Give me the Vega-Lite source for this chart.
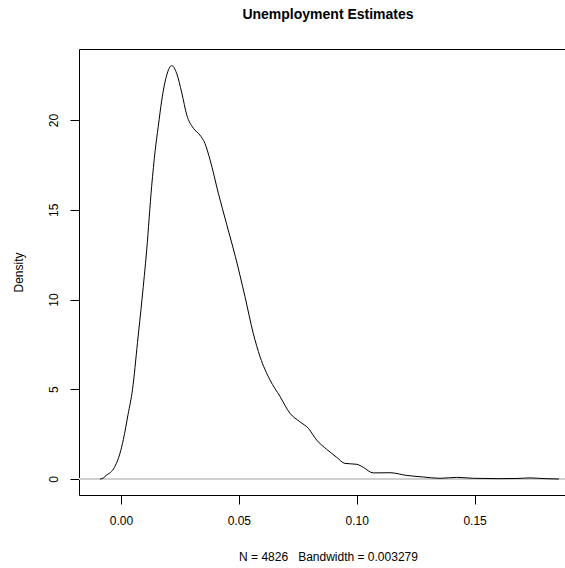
{
  "$schema": "https://vega.github.io/schema/vega-lite/v6.json",
  "autosize": "none",
  "width": 486,
  "height": 446,
  "padding": {"left": 79, "top": 49, "right": 0, "bottom": 73},
  "background": "white",
  "title": {
    "text": "Unemployment Estimates",
    "font": "Liberation Sans",
    "fontSize": 14,
    "fontWeight": "bold",
    "color": "black",
    "anchor": "middle",
    "dx": 6,
    "offset": 27
  },
  "config": {
    "view": {"stroke": "black", "strokeWidth": 1},
    "axis": {
      "grid": false,
      "domain": false,
      "tickColor": "black",
      "tickSize": 9,
      "tickWidth": 1,
      "labelFont": "Liberation Sans",
      "labelFontSize": 12,
      "labelColor": "black",
      "titleFont": "Liberation Sans",
      "titleFontSize": 12,
      "titleFontWeight": "normal",
      "titleColor": "black"
    }
  },
  "data": {
    "values": [
      {"x": -0.0089, "y": 0.0},
      {"x": -0.0075, "y": 0.06},
      {"x": -0.0061, "y": 0.22},
      {"x": -0.0040, "y": 0.42},
      {"x": -0.0025, "y": 0.72},
      {"x": -0.0005, "y": 1.4},
      {"x": 0.0010, "y": 2.2},
      {"x": 0.0030, "y": 3.6},
      {"x": 0.0049, "y": 5.0},
      {"x": 0.0070, "y": 7.6},
      {"x": 0.0089, "y": 10.0},
      {"x": 0.0109, "y": 12.76},
      {"x": 0.0130, "y": 16.3},
      {"x": 0.0145, "y": 18.3},
      {"x": 0.0158, "y": 19.63},
      {"x": 0.0173, "y": 21.11},
      {"x": 0.0194, "y": 22.5},
      {"x": 0.0215, "y": 23.03},
      {"x": 0.0236, "y": 22.6},
      {"x": 0.0258, "y": 21.5},
      {"x": 0.0279, "y": 20.28},
      {"x": 0.0307, "y": 19.54},
      {"x": 0.0335, "y": 19.16},
      {"x": 0.0356, "y": 18.7},
      {"x": 0.0378, "y": 17.77},
      {"x": 0.0413, "y": 15.92},
      {"x": 0.0448, "y": 14.2},
      {"x": 0.0485, "y": 12.4},
      {"x": 0.0526, "y": 10.16},
      {"x": 0.0561, "y": 8.12},
      {"x": 0.0590, "y": 6.81},
      {"x": 0.0632, "y": 5.52},
      {"x": 0.0675, "y": 4.59},
      {"x": 0.0717, "y": 3.66},
      {"x": 0.0759, "y": 3.19},
      {"x": 0.0795, "y": 2.82},
      {"x": 0.0830, "y": 2.17},
      {"x": 0.0873, "y": 1.65},
      {"x": 0.0915, "y": 1.21},
      {"x": 0.0950, "y": 0.87},
      {"x": 0.1000, "y": 0.82},
      {"x": 0.1028, "y": 0.65},
      {"x": 0.1070, "y": 0.34},
      {"x": 0.1141, "y": 0.35},
      {"x": 0.1212, "y": 0.2},
      {"x": 0.1283, "y": 0.11},
      {"x": 0.1353, "y": 0.04},
      {"x": 0.1424, "y": 0.09},
      {"x": 0.1495, "y": 0.04},
      {"x": 0.1600, "y": 0.02},
      {"x": 0.1680, "y": 0.03},
      {"x": 0.1735, "y": 0.06},
      {"x": 0.1800, "y": 0.02},
      {"x": 0.1858, "y": 0.0}
    ]
  },
  "layer": [
    {
      "mark": {"type": "rule", "color": "#cfcfcf", "strokeWidth": 1},
      "encoding": {"y": {"datum": 0, "type": "quantitative"}}
    },
    {
      "mark": {"type": "line", "color": "black", "strokeWidth": 1, "interpolate": "monotone", "clip": true},
      "encoding": {
        "x": {
          "field": "x",
          "type": "quantitative",
          "scale": {"domain": [-0.01782, 0.18837], "nice": false, "zero": false},
          "axis": {
            "values": [0, 0.05, 0.1, 0.15],
            "format": ".2f",
            "labelPadding": 11,
            "title": "N = 4826\u00a0\u00a0\u00a0Bandwidth = 0.003279",
            "titleX": 249,
            "titlePadding": 25
          }
        },
        "y": {
          "field": "y",
          "type": "quantitative",
          "scale": {"domain": [-0.891, 23.955], "nice": false, "zero": false},
          "axis": {
            "values": [0, 5, 10, 15, 20],
            "labelAngle": -90,
            "labelAlign": "center",
            "labelBaseline": "bottom",
            "labelPadding": 10,
            "title": "Density",
            "titlePadding": 22
          }
        }
      }
    }
  ]
}
